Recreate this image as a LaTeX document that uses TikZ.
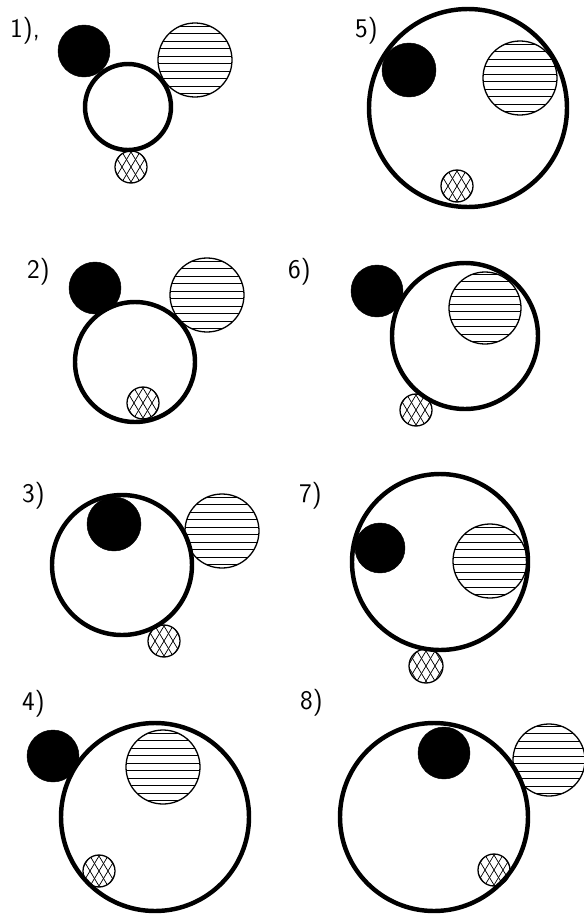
\documentclass[tikz,border=0pt]{standalone}
\usetikzlibrary{positioning}

\begin{document}
\begin{tikzpicture}[
      x=0.03cm, y=-0.03cm,
      rim/.style={circle, draw, line width=3.8pt, inner sep=0pt, minimum size={2*#1*0.03cm}},
      blackball/.style={circle, draw, fill=black, inner sep=0pt, minimum size={2*#1*0.03cm}},
      lineball/.style={circle, draw, line width=1.1pt, fill=white, inner sep=0pt,
                  minimum size={2*#1*0.03cm},
                  path picture={\foreach \k in {-6,...,5}
                    \draw[line width=0.8pt] (path picture bounding box.center)
                      ++(-60,{(\k+0.5)*7.5}) -- ++(120,0);}},
      netball/.style={circle, draw, line width=1.1pt, fill=white, inner sep=0pt,
                  minimum size={2*#1*0.03cm},
                  path picture={\foreach \k in {-4,...,4} {
                    \draw[line width=0.6pt] (path picture bounding box.center)
                      ++({\k*9-12},-20) -- ++(24,40);
                    \draw[line width=0.6pt] (path picture bounding box.center)
                      ++({\k*9+12},-20) -- ++(-24,40);}}},
      lab/.style={anchor=west, inner sep=0pt, font=\sffamily\fontsize{23}{27}\selectfont}
    ]
      \useasboundingbox (0,0) rectangle (584,914);

      % 1)
      \node[lab] (lab1) at (10,31) {1),};
      \node[blackball=26] (blk1) at (84,51) {};
      \node[lineball=37] (hat1) at (195,60) {};
      \node[netball=16] (net1) at (131,167) {};
      \node[rim=43] (rim1) at (128,107) {};

      % 2)
      \node[lab] (lab2) at (27,272) {2)};
      \node[blackball=26] (blk2) at (95,288) {};
      \node[lineball=37] (hat2) at (207,295) {};
      \node[netball=16] (net2) at (143,403) {};
      \node[rim=60] (rim2) at (135,362) {};

      % 3)
      \node[lab] (lab3) at (22,496) {3)};
      \node[blackball=27] (blk3) at (114,524) {};
      \node[lineball=37] (hat3) at (222,531) {};
      \node[netball=16] (net3) at (164,641) {};
      \node[rim=70] (rim3) at (122,565) {};

      % 4)
      \node[lab] (lab4) at (22,704) {4)};
      \node[blackball=26] (blk4) at (53,756) {};
      \node[lineball=37] (hat4) at (163,767) {};
      \node[netball=16] (net4) at (99,871) {};
      \node[rim=94] (rim4) at (155,817) {};

      % 5)
      \node[lab] (lab5) at (355,31) {5)};
      \node[blackball=27] (blk5) at (409,70) {};
      \node[lineball=37] (hat5) at (520,78) {};
      \node[netball=16] (net5) at (457,186) {};
      \node[rim=99] (rim5) at (468,108) {};

      % 6)
      \node[lab] (lab6) at (288,272) {6)};
      \node[blackball=26] (blk6) at (377,291) {};
      \node[lineball=36] (hat6) at (485,308) {};
      \node[netball=16] (net6) at (416,410) {};
      \node[rim=73] (rim6) at (465,336) {};

      % 7)
      \node[lab] (lab7) at (299,496) {7)};
      \node[blackball=25] (blk7) at (380,548) {};
      \node[lineball=37] (hat7) at (490,561) {};
      \node[netball=17] (net7) at (426,666) {};
      \node[rim=88] (rim7) at (440,562) {};

      % 8)
      \node[lab] (lab8) at (300,703) {8)};
      \node[blackball=26] (blk8) at (444,753) {};
      \node[lineball=36] (hat8) at (549,760) {};
      \node[netball=16] (net8) at (494,870) {};
      \node[rim=94] (rim8) at (434,817) {};
    \end{tikzpicture}
\end{document}
